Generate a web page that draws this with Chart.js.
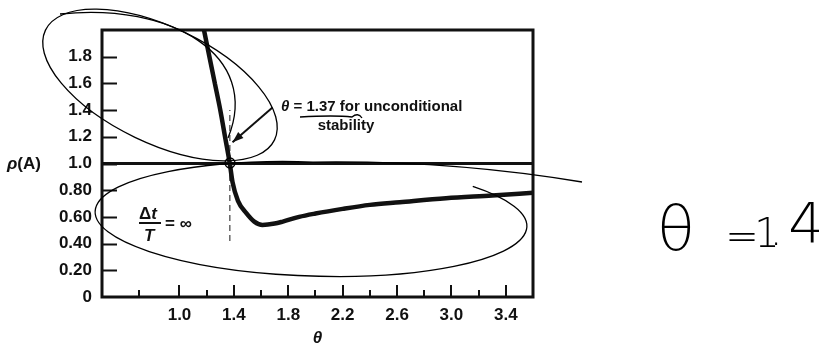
<!DOCTYPE html>
<html>
<head>
<meta charset="utf-8">
<script src="https://cdn.jsdelivr.net/npm/chart.js@4.4.0/dist/chart.umd.min.js"></script>
<style>
  html, body { margin: 0; padding: 0; background: #fff; }
  #wrap { width: 819px; height: 347px; }
</style>
</head>
<body>
<div id="wrap"><canvas id="rhoChart" width="819" height="347"></canvas></div>
<script>
// Spectral radius vs theta (Wilson theta method, dt/T = infinity)
const thetaValues = [1.18, 1.22, 1.26, 1.30, 1.335, 1.37, 1.39, 1.43, 1.49, 1.55, 1.61, 1.70, 1.76, 1.88, 2.0, 2.2, 2.4, 2.62, 2.96, 3.3, 3.6];
const rhoValues = [2.0, 1.8, 1.6, 1.4, 1.2, 1.0, 0.86, 0.72, 0.63, 0.565, 0.54, 0.55, 0.565, 0.60, 0.625, 0.66, 0.69, 0.71, 0.74, 0.76, 0.78];

const xMajorTicks = [1.0, 1.4, 1.8, 2.2, 2.6, 3.0, 3.4];
const xMinorTicks = [0.7, 1.2, 1.6, 2.0, 2.4, 2.8, 3.2];
const yTickValues = [0, 0.2, 0.4, 0.6, 0.8, 1.0, 1.2, 1.4, 1.6, 1.8];
const yTickLabels = ['0', '0.20', '0.40', '0.60', '0.80', '1.0', '1.2', '1.4', '1.6', '1.8'];

const thetaStable = 1.37;      // unconditional stability limit
const stabilityLimit = 1.0;    // rho(A) = 1
const dashRange = [0.42, 1.4];

const X_MIN = 0.43, X_MAX = 3.6, Y_MIN = 0, Y_MAX = 2.0;
const INK = '#111';
const FONT = '"Liberation Sans", Arial, sans-serif';

// Frame, inward ticks, labels and the hand-drawn pen marks
const paperPlugin = {
  id: 'paper',
  afterDatasetsDraw(chart) {
    const ctx = chart.ctx;
    const xs = chart.scales.x, ys = chart.scales.y;
    const a = chart.chartArea;
    ctx.save();

    // frame
    ctx.strokeStyle = INK;
    ctx.lineWidth = 3;
    ctx.strokeRect(a.left, a.top, a.right - a.left, a.bottom - a.top);

    // inward ticks
    ctx.lineWidth = 2;
    ctx.beginPath();
    yTickValues.forEach(v => {
      if (v === 0) return;
      const y = Math.round(ys.getPixelForValue(v)) + 0.5;
      ctx.moveTo(a.left, y);
      ctx.lineTo(a.left + 15, y);
    });
    xMajorTicks.forEach(v => {
      const x = Math.round(xs.getPixelForValue(v));
      ctx.moveTo(x, a.bottom);
      ctx.lineTo(x, a.bottom - 12);
    });
    xMinorTicks.forEach(v => {
      const x = Math.round(xs.getPixelForValue(v));
      ctx.moveTo(x, a.bottom);
      ctx.lineTo(x, a.bottom - 7);
    });
    ctx.stroke();

    // arrow to the stability point
    const x0 = xs.getPixelForValue(1.684), y0 = ys.getPixelForValue(1.42);
    const x1 = xs.getPixelForValue(1.39), y1 = ys.getPixelForValue(1.16);
    ctx.lineWidth = 2;
    ctx.beginPath();
    ctx.moveTo(x0, y0);
    ctx.lineTo(x1, y1);
    ctx.stroke();
    const ang = Math.atan2(y1 - y0, x1 - x0);
    ctx.fillStyle = INK;
    ctx.beginPath();
    ctx.moveTo(x1, y1);
    ctx.lineTo(x1 - 11 * Math.cos(ang) + 4 * Math.sin(ang), y1 - 11 * Math.sin(ang) - 4 * Math.cos(ang));
    ctx.lineTo(x1 - 11 * Math.cos(ang) - 4 * Math.sin(ang), y1 - 11 * Math.sin(ang) + 4 * Math.cos(ang));
    ctx.closePath();
    ctx.fill();

    // annotation text
    ctx.fillStyle = INK;
    ctx.textBaseline = 'alphabetic';
    ctx.textAlign = 'left';
    ctx.font = 'italic bold 15px ' + FONT;
    ctx.fillText('θ', 281, 111);
    let w = ctx.measureText('θ').width;
    ctx.font = 'bold 15px ' + FONT;
    ctx.fillText(' = 1.37 for unconditional', 281 + w, 111);
    ctx.textAlign = 'center';
    ctx.fillText('stability', 346, 130);

    // dt/T = infinity
    ctx.font = 'bold 17px ' + FONT;
    ctx.textAlign = 'left';
    ctx.fillText('Δ', 139, 219);
    w = ctx.measureText('Δ').width;
    ctx.font = 'italic bold 17px ' + FONT;
    ctx.fillText('t', 139 + w, 219);
    ctx.fillText('T', 144, 241);
    ctx.fillRect(139, 222, 22, 2);
    ctx.font = 'bold 17px ' + FONT;
    ctx.fillText('= ∞', 165, 229);

    // y axis title
    ctx.font = 'italic bold 17px ' + FONT;
    ctx.fillText('ρ', 7, 169);
    w = ctx.measureText('ρ').width;
    ctx.font = 'bold 17px ' + FONT;
    ctx.fillText('(A)', 7 + w, 169);

    // x axis title
    ctx.font = 'italic bold 17px ' + FONT;
    ctx.textAlign = 'center';
    ctx.fillText('θ', (a.left + a.right) / 2, 343);

    // hand-drawn pen marks
    ctx.strokeStyle = '#000';
    ctx.lineWidth = 1.3;
    ctx.beginPath();
    ctx.ellipse(160, 85, 127, 58, 25.6 * Math.PI / 180, 0, Math.PI * 2);
    ctx.stroke();
    ctx.beginPath();
    ctx.moveTo(60, 14);
    ctx.bezierCurveTo(170, 2, 262, 55, 228, 138);
    ctx.stroke();
    ctx.beginPath();
    ctx.arc(230, 163, 5, 0, Math.PI * 2);
    ctx.stroke();
    ctx.beginPath();
    ctx.ellipse(311, 219, 216, 57, 2 * Math.PI / 180, -42 * Math.PI / 180, 270 * Math.PI / 180);
    ctx.quadraticCurveTo(450, 160, 582, 182);
    ctx.stroke();
    ctx.beginPath();
    ctx.moveTo(300, 117);
    ctx.quadraticCurveTo(335, 115, 352, 117);
    ctx.quadraticCurveTo(358, 112, 362, 118);
    ctx.stroke();

    // handwritten "θ = 1.4"
    ctx.fillStyle = '#000';
    ctx.textAlign = 'center';
    ctx.font = '200 62px "DejaVu Sans", sans-serif';
    ctx.fillText('θ', 676, 250);
    ctx.font = '200 40px "DejaVu Sans", sans-serif';
    ctx.fillText('=', 742, 250);
    ctx.fillText('1', 767, 247);
    ctx.fillText('.', 776, 245);
    ctx.font = '200 56px "DejaVu Sans", sans-serif';
    ctx.fillText('4', 806, 242);

    ctx.restore();
  }
};

const curvePoints = thetaValues.map((t, i) => ({ x: t, y: rhoValues[i] }));

new Chart(document.getElementById('rhoChart'), {
  type: 'scatter',
  data: {
    datasets: [
      {
        data: curvePoints,
        showLine: true,
        borderColor: INK,
        borderWidth: 4.5,
        pointRadius: 0,
        cubicInterpolationMode: 'monotone'
      },
      {
        data: [{ x: X_MIN, y: stabilityLimit }, { x: X_MAX, y: stabilityLimit }],
        showLine: true,
        borderColor: INK,
        borderWidth: 3,
        pointRadius: 0
      },
      {
        data: [{ x: thetaStable, y: dashRange[0] }, { x: thetaStable, y: dashRange[1] }],
        showLine: true,
        borderColor: '#666',
        borderWidth: 1.5,
        borderDash: [6, 4],
        pointRadius: 0
      }
    ]
  },
  options: {
    responsive: false,
    animation: false,
    devicePixelRatio: 1,
    layout: { padding: { left: 0, top: 30, right: 286, bottom: 0 } },
    plugins: {
      legend: { display: false },
      tooltip: { enabled: false }
    },
    scales: {
      x: {
        type: 'linear',
        min: X_MIN,
        max: X_MAX,
        grid: { display: false, drawTicks: false },
        border: { display: false },
        afterBuildTicks: s => { s.ticks = xMajorTicks.map(v => ({ value: v })); },
        afterFit: s => { s.height = 50; },
        ticks: {
          padding: 8,
          color: INK,
          font: { family: FONT, size: 17, weight: 'bold' },
          callback: v => Number(v).toFixed(1)
        }
      },
      y: {
        type: 'linear',
        min: Y_MIN,
        max: Y_MAX,
        grid: { display: false, drawTicks: false },
        border: { display: false },
        afterBuildTicks: s => { s.ticks = yTickValues.map(v => ({ value: v })); },
        afterFit: s => { s.width = 102; },
        ticks: {
          padding: 10,
          color: INK,
          font: { family: FONT, size: 17, weight: 'bold' },
          callback: v => {
            const i = yTickValues.findIndex(t => Math.abs(t - v) < 1e-6);
            return i >= 0 ? yTickLabels[i] : '';
          }
        }
      }
    }
  },
  plugins: [paperPlugin]
});
</script>
</body>
</html>
